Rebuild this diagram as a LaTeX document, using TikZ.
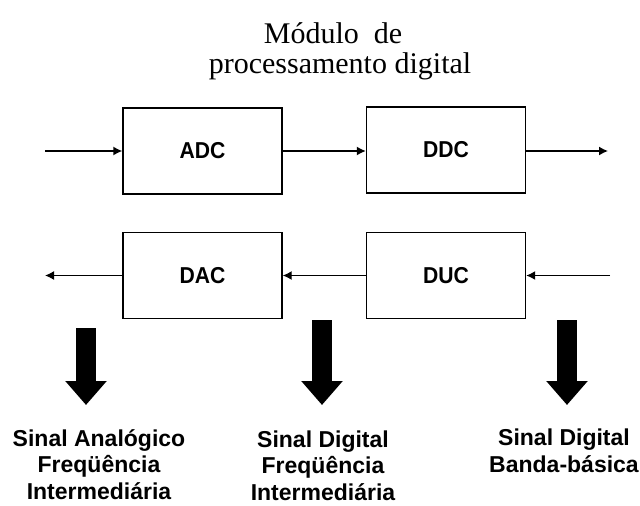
\documentclass[tikz,border=0pt]{standalone}
\usepackage{fontspec}
\setmainfont{Liberation Serif}
\newfontfamily\blkfont[FakeStretch=0.92]{Liberation Sans}
\newfontfamily\lblfont{Liberation Sans}
\usetikzlibrary{arrows.meta}
\begin{document}
\begin{tikzpicture}[x=1pt,y=-1pt,
  blk/.style={draw, line width=1.4pt, minimum width=159pt, minimum height=86pt,
    inner sep=0pt, font=\blkfont\bfseries\fontsize{23}{26}\selectfont},
  sig/.style={line width=1.4pt, -{Latex[length=9pt,width=9pt]}},
  bigarrow/.style={line width=20pt, -{Triangle[length=24pt,width=40pt]}},
  ttl/.style={inner sep=0pt, anchor=base, font=\fontsize{30}{30}\selectfont},
  lbl/.style={align=center, inner sep=0pt, anchor=base,
    font=\lblfont\bfseries\fontsize{23}{26.5}\selectfont}]
\useasboundingbox (0,0) rectangle (640,506);

% title
\node[ttl] (title1) at (333,43) {Módulo\ \ de};
\node[ttl] (title2) at (340,73) {processamento digital};

% blocks
\node[blk] (adc) at (202.5,151) {ADC};
\node[blk] (ddc) at (446,150) {DDC};
\node[blk] (dac) at (202.5,275.5) {DAC};
\node[blk] (duc) at (446,275.5) {DUC};

% free ends of the signal lines
\coordinate (inA) at (45,151);
\coordinate (outD) at (608,151);
\coordinate (inU) at (610,275.5);
\coordinate (outA) at (45,275.5);

% transmit path
\draw[sig] (inA) -- (adc.west);
\draw[sig] (adc.east) -- (ddc.west |- adc.east);
\draw[sig] (ddc.east |- adc.east) -- (outD);

% receive path
\draw[sig] (inU) -- (duc.east);
\draw[sig] (duc.west) -- (dac.east);
\draw[sig] (dac.west) -- (outA);

% signal type markers
\coordinate (t1) at (86,328);
\coordinate (b1) at (86,405);
\coordinate (t2) at (322,320);
\coordinate (b2) at (322,405);
\coordinate (t3) at (567,320);
\coordinate (b3) at (567,405);
\draw[bigarrow] (t1) -- (b1);
\draw[bigarrow] (t2) -- (b2);
\draw[bigarrow] (t3) -- (b3);

% labels (base anchor sits on the last line)
\node[lbl] (l1) at (99,499) {Sinal Analógico\\Freqüência\\Intermediária};
\node[lbl] (l2) at (323,500) {Sinal Digital\\Freqüência\\Intermediária};
\node[lbl] (l3) at (564,472) {Sinal Digital\\Banda-básica};
\end{tikzpicture}
\end{document}
